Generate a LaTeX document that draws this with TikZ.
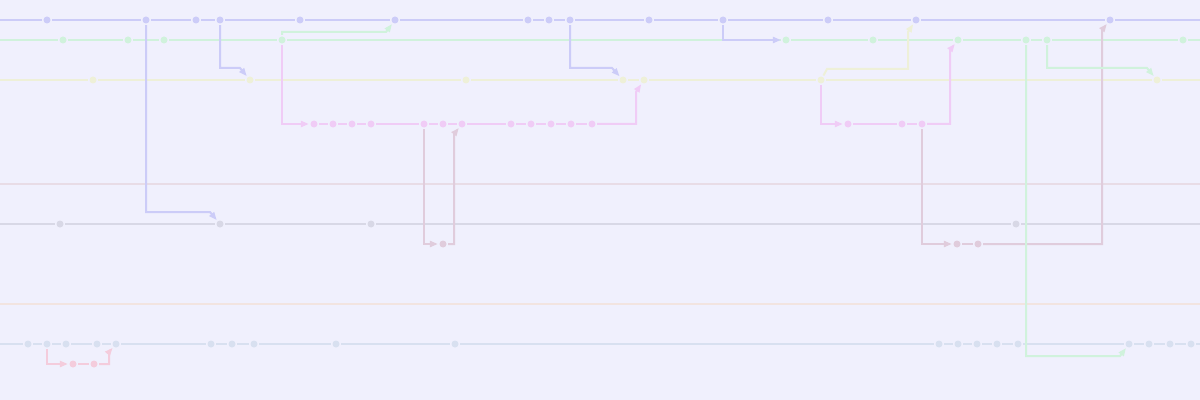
\documentclass[tikz,border=0pt]{standalone}
\usetikzlibrary{calc}
\usetikzlibrary{arrows.meta}
\definecolor{bgc}{HTML}{F0F0FD}
\definecolor{cblue}{HTML}{CCCCF8}
\definecolor{cgreen}{HTML}{D0F2DC}
\definecolor{cyellow}{HTML}{EEF0D8}
\definecolor{cpink}{HTML}{F0CCF6}
\definecolor{cmauve}{HTML}{E0CCDC}
\definecolor{crose}{HTML}{E8DCE6}
\definecolor{cgray}{HTML}{D8D8E6}
\definecolor{cpeach}{HTML}{F2E4E0}
\definecolor{clight}{HTML}{D8E0F0}
\definecolor{cred}{HTML}{F4CCDC}
\tikzset{
  commit/.style={circle,fill=#1,inner sep=0pt,minimum size=0.175cm,outer sep=0.04cm},
  lane/.style={line width=0.05cm,draw=#1},
  merge/.style={line width=0.05cm,draw=#1,-{Triangle[length=0.2cm,width=0.15cm]}},
}
\begin{document}
\begin{tikzpicture}[x=0.025cm,y=-0.025cm]
   \fill[bgc] (0,0) rectangle (1200,400);
   \useasboundingbox (0,0) rectangle (1200,400);

   % Enden der durchgehenden Linien
   \path
    (0,20) coordinate (bL)  (1200,20) coordinate (bR)
    (0,40) coordinate (gL)  (1200,40) coordinate (gR)
    (0,80) coordinate (yL)  (1200,80) coordinate (yR)
    (0,184) coordinate (oL) (1200,184) coordinate (oR)
    (0,224) coordinate (kL) (1200,224) coordinate (kR)
    (0,304) coordinate (eL) (1200,304) coordinate (eR)
    (0,344) coordinate (lL) (1200,344) coordinate (lR);

   % Commits, blau
   \path
    (47,20) node[commit=cblue] (b1) {}   (146,20) node[commit=cblue] (b2) {}
    (196,20) node[commit=cblue] (b3) {}  (220,20) node[commit=cblue] (b4) {}
    (300,20) node[commit=cblue] (b5) {}  (395,20) node[commit=cblue] (b6) {}
    (528,20) node[commit=cblue] (b7) {}  (549,20) node[commit=cblue] (b8) {}
    (570,20) node[commit=cblue] (b9) {}  (649,20) node[commit=cblue] (b10) {}
    (723,20) node[commit=cblue] (b11) {} (828,20) node[commit=cblue] (b12) {}
    (916,20) node[commit=cblue] (b13) {} (1110,20) node[commit=cblue] (b14) {};

   % Commits, gruen
   \path
    (63,40) node[commit=cgreen] (g1) {}   (128,40) node[commit=cgreen] (g2) {}
    (164,40) node[commit=cgreen] (g3) {}  (282,40) node[commit=cgreen] (g4) {}
    (786,40) node[commit=cgreen] (g5) {}  (873,40) node[commit=cgreen] (g6) {}
    (958,40) node[commit=cgreen] (g7) {}  (1026,40) node[commit=cgreen] (g8) {}
    (1047,40) node[commit=cgreen] (g9) {} (1183,40) node[commit=cgreen] (g10) {};

   % Commits, gelb
   \path
    (93,80) node[commit=cyellow] (y1) {}  (250,80) node[commit=cyellow] (y2) {}
    (466,80) node[commit=cyellow] (y3) {} (623,80) node[commit=cyellow] (y4) {}
    (644,80) node[commit=cyellow] (y5) {} (821,80) node[commit=cyellow] (y6) {}
    (1157,80) node[commit=cyellow] (y7) {};

   % Commits, rosa
   \path
    (314,124) node[commit=cpink] (p1) {}  (333,124) node[commit=cpink] (p2) {}
    (352,124) node[commit=cpink] (p3) {}  (371,124) node[commit=cpink] (p4) {}
    (424,124) node[commit=cpink] (p5) {}  (443,124) node[commit=cpink] (p6) {}
    (462,124) node[commit=cpink] (p7) {}  (511,124) node[commit=cpink] (p8) {}
    (531,124) node[commit=cpink] (p9) {}  (551,124) node[commit=cpink] (p10) {}
    (571,124) node[commit=cpink] (p11) {} (592,124) node[commit=cpink] (p12) {}
    (848,124) node[commit=cpink] (p13) {} (902,124) node[commit=cpink] (p14) {}
    (922,124) node[commit=cpink] (p15) {};

   % Commits, grau und mauve
   \path
    (60,224) node[commit=cgray] (k1) {}   (220,224) node[commit=cgray] (k2) {}
    (371,224) node[commit=cgray] (k3) {}  (1016,224) node[commit=cgray] (k4) {}
    (443,244) node[commit=cmauve] (m1) {} (957,244) node[commit=cmauve] (m2) {}
    (978,244) node[commit=cmauve] (m3) {};

   % Commits, hellblau und rot
   \path
    (28,344) node[commit=clight] (l1) {}   (47,344) node[commit=clight] (l2) {}
    (66,344) node[commit=clight] (l3) {}   (97,344) node[commit=clight] (l4) {}
    (116,344) node[commit=clight] (l5) {}  (211,344) node[commit=clight] (l6) {}
    (232,344) node[commit=clight] (l7) {}  (254,344) node[commit=clight] (l8) {}
    (336,344) node[commit=clight] (l9) {}  (455,344) node[commit=clight] (l10) {}
    (939,344) node[commit=clight] (l11) {} (958,344) node[commit=clight] (l12) {}
    (977,344) node[commit=clight] (l13) {} (997,344) node[commit=clight] (l14) {}
    (1018,344) node[commit=clight] (l15) {} (1129,344) node[commit=clight] (l16) {}
    (1149,344) node[commit=clight] (l17) {} (1170,344) node[commit=clight] (l18) {}
    (1191,344) node[commit=clight] (l19) {}
    (73,364) node[commit=cred] (r1) {}     (94,364) node[commit=cred] (r2) {};

   % Linien
   \draw[lane=cblue] (bL) -- (b1) -- (b2) -- (b3) -- (b4) -- (b5) -- (b6) -- (b7)
    -- (b8) -- (b9) -- (b10) -- (b11) -- (b12) -- (b13) -- (b14) -- (bR);
   \draw[lane=cgreen] (gL) -- (g1) -- (g2) -- (g3) -- (g4) -- (g5) -- (g6) -- (g7)
    -- (g8) -- (g9) -- (g10) -- (gR);
   \draw[lane=cyellow] (yL) -- (y1) -- (y2) -- (y3) -- (y4) -- (y5) -- (y6) -- (y7) -- (yR);
   \draw[lane=cpink] (p1) -- (p2) -- (p3) -- (p4) -- (p5) -- (p6) -- (p7) -- (p8)
    -- (p9) -- (p10) -- (p11) -- (p12);
   \draw[lane=cpink] (p13) -- (p14) -- (p15);
   \draw[lane=crose] (oL) -- (oR);
   \draw[lane=cgray] (kL) -- (k1) -- (k2) -- (k3) -- (k4) -- (kR);
   \draw[lane=cmauve] (m2) -- (m3);
   \draw[lane=cpeach] (eL) -- (eR);
   \draw[lane=clight] (lL) -- (l1) -- (l2) -- (l3) -- (l4) -- (l5) -- (l6) -- (l7)
    -- (l8) -- (l9) -- (l10) -- (l11) -- (l12) -- (l13) -- (l14) -- (l15) -- (l16)
    -- (l17) -- (l18) -- (l19) -- (lR);
   \draw[lane=cred] (r1) -- (r2);

   % Abzweigungen und Merges
   \draw[merge=cblue] (b2) |- ($(k2)+(-10,-12)$) -- (k2);
   \draw[merge=cblue] (b4) |- ($(y2)+(-10,-12)$) -- (y2);
   \draw[merge=cgreen] (g4) |- ($(b6)+(-9,12)$) -- (b6);
   \draw[merge=cpink] (g4) |- (p1);
   \draw[merge=cblue] (b9) |- ($(y4)+(-11,-12)$) -- (y4);
   \draw[merge=cpink] (p12) -| ($(y5)+(-8,12)$) -- (y5);
   \draw[merge=cmauve] (p5) |- (m1);
   \draw[merge=cmauve] (m1) -| ($(p7)+(-8,10)$) -- (p7);
   \draw[merge=cblue] (b11) |- (g5);
   \draw[merge=cyellow] (y6) -- ++(6,-11) -| ($(b13)+(-8,12)$) -- (b13);
   \draw[merge=cpink] (y6) |- (p13);
   \draw[merge=cpink] (p15) -| ($(g7)+(-8,10)$) -- (g7);
   \draw[merge=cmauve] (p15) |- (m2);
   \draw[merge=cmauve] (m3) -| ($(b14)+(-8,10)$) -- (b14);
   \draw[merge=cgreen] (g8) |- ($(l16)+(-9,12)$) -- (l16);
   \draw[merge=cgreen] (g9) |- ($(y7)+(-10,-12)$) -- (y7);
   \draw[merge=cred] (l2) |- (r1);
   \draw[merge=cred] (r2) -| ($(l5)+(-7,8)$) -- (l5);
\end{tikzpicture}
\end{document}
